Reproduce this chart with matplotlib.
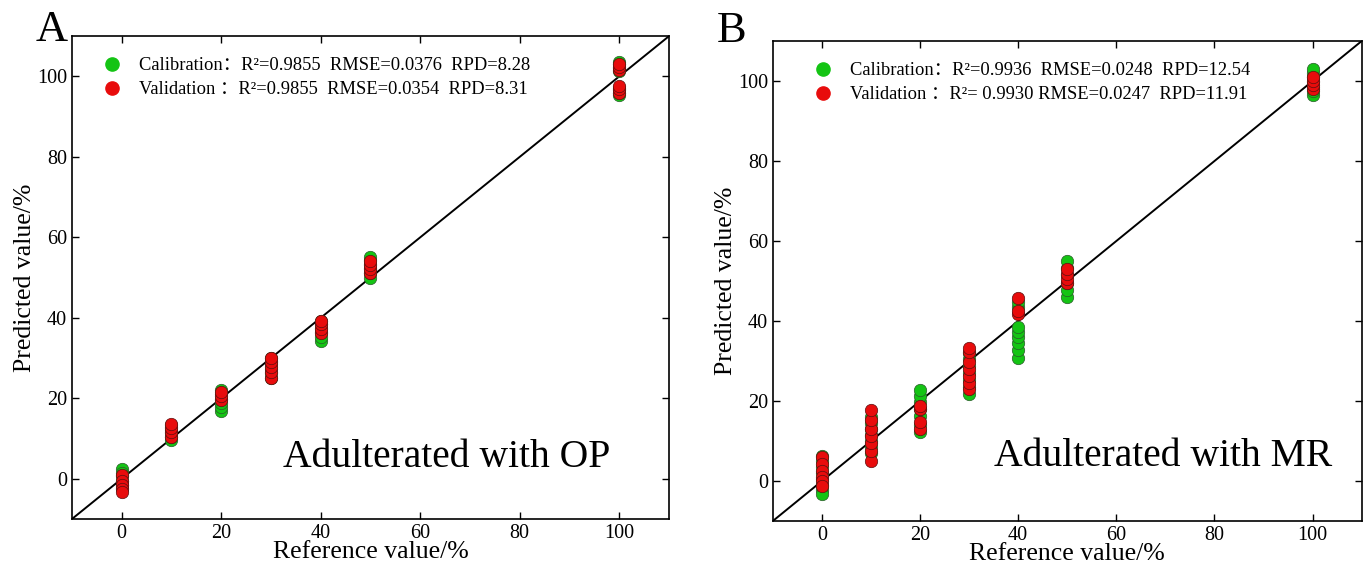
import matplotlib
matplotlib.use("Agg")
import matplotlib.pyplot as plt
from matplotlib.lines import Line2D

plt.rcParams['font.family'] = ['Liberation Serif', 'Noto Sans CJK SC']

# ---- data: panel A (OP) ----
cal_x_A = [0]*6 + [10]*6 + [20]*6 + [30]*6 + [40]*6 + [50]*6 + [100]*8
cal_y_A = [2.3, 1.5, 0.6, -0.5, -1.5, -2.2,
           9.6, 10.5, 11.3, 12.0, 12.8, 13.3,
           16.8, 17.8, 18.8, 19.8, 21.0, 22.1,
           25.0, 26.2, 27.3, 28.4, 29.3, 30.0,
           34.2, 35.3, 36.4, 37.4, 38.4, 39.2,
           50.0, 51.2, 52.3, 53.3, 54.3, 55.0,
           95.4, 96.0, 96.6, 97.2, 101.3, 102.2, 103.0, 103.6]
val_x_A = [0]*5 + [10]*4 + [20]*3 + [30]*5 + [40]*4 + [50]*4 + [100]*6
val_y_A = [1.0, -0.5, -1.5, -2.5, -3.2,
           10.4, 11.5, 12.6, 13.5,
           19.5, 20.5, 21.6,
           25.0, 26.5, 27.8, 29.0, 30.0,
           36.3, 37.3, 38.4, 39.3,
           51.2, 52.2, 53.1, 54.0,
           96.0, 96.8, 97.5, 101.5, 102.3, 103.0]
stats_cal_A = "Calibration：R²=0.9855  RMSE=0.0376  RPD=8.28"
stats_val_A = "Validation ：R²=0.9855  RMSE=0.0354  RPD=8.31"
title_A = "Adulterated with OP"

# ---- data: panel B (MR) ----
cal_x_B = [0]*8 + [10]*7 + [20]*7 + [30]*7 + [40]*8 + [50]*6 + [100]*7
cal_y_B = [6.2, 5.0, 3.5, 2.0, 0.5, -1.0, -2.2, -3.3,
           7.0, 8.5, 10.0, 11.5, 13.0, 14.5, 16.0,
           12.2, 14.0, 16.2, 18.0, 19.8, 21.2, 22.7,
           21.7, 23.5, 25.2, 27.0, 28.8, 30.5, 32.0,
           30.7, 32.8, 34.5, 36.0, 37.2, 38.5, 43.5, 44.8,
           45.9, 47.8, 49.5, 51.5, 53.3, 54.9,
           96.5, 97.5, 98.5, 99.8, 101.0, 102.0, 103.0]
val_x_B = [0]*6 + [10]*7 + [20]*4 + [30]*7 + [40]*3 + [50]*4 + [100]*4
val_y_B = [6.0, 4.2, 2.5, 1.0, 0.0, -1.2,
           5.0, 7.5, 9.5, 11.3, 13.0, 15.2, 17.7,
           13.0, 14.8, 18.0, 18.8,
           22.9, 24.5, 26.2, 28.0, 29.8, 32.2, 33.2,
           41.8, 42.5, 45.8,
           49.6, 50.6, 51.8, 53.0,
           98.0, 99.0, 100.0, 101.0]
stats_cal_B = "Calibration：R²=0.9936  RMSE=0.0248  RPD=12.54"
stats_val_B = "Validation ：R²= 0.9930 RMSE=0.0247  RPD=11.91"
title_B = "Adulterated with MR"

ticks = [0, 20, 40, 60, 80, 100]
GREEN = '#14c414'
RED = '#e80c0c'

fig = plt.figure(figsize=(13.63, 5.68), dpi=100)
axA = fig.add_axes([0.0528, 0.0863, 0.438, 0.850])
axB = fig.add_axes([0.567, 0.0827, 0.432, 0.845])

def draw(ax, cx, cy, vx, vy, scal, sval, title, tx, ty, lx):
    ax.plot([-10, 110], [-10, 110], color='black', lw=1.4, zorder=1)
    ax.scatter(cx, cy, s=80, color=GREEN, edgecolors='#2a5a2a', linewidths=0.5, zorder=2)
    ax.scatter(vx, vy, s=80, color=RED, edgecolors='#5a1010', linewidths=0.5, zorder=3)
    ax.set_xlim(-10, 110)
    ax.set_ylim(-10, 110)
    ax.set_xticks(ticks)
    ax.set_yticks(ticks)
    ax.tick_params(direction='in', top=True, right=True, labelsize=14.5, length=5, width=1)
    for s in ax.spines.values():
        s.set_linewidth(1.2)
    ax.set_xlabel("Reference value/%", fontsize=18.5, labelpad=-1)
    ax.set_ylabel("Predicted value/%", fontsize=18.5, labelpad=0.5)
    handles = [Line2D([], [], ls='none', marker='o', ms=9.5, mfc=GREEN, mec=GREEN),
               Line2D([], [], ls='none', marker='o', ms=9.5, mfc=RED, mec=RED)]
    ax.legend(handles, [scal, sval], loc='upper left', frameon=False, fontsize=13.3,
              handletextpad=0.5, labelspacing=0.38, borderaxespad=0.75,
              bbox_to_anchor=(lx, 1.0))
    ax.text(tx, ty, title, fontsize=28.5, ha='center', va='center')

draw(axA, cal_x_A, cal_y_A, val_x_A, val_y_A, stats_cal_A, stats_val_A, title_A, 65.4, 5.2, 0.0)
draw(axB, cal_x_B, cal_y_B, val_x_B, val_y_B, stats_cal_B, stats_val_B, title_B, 69.6, 6.2, 0.017)

fig.text(0.038, 0.948, "A", fontsize=32, ha='center', va='center')
fig.text(0.537, 0.945, "B", fontsize=32, ha='center', va='center')

fig.savefig("out.png", dpi=100)
